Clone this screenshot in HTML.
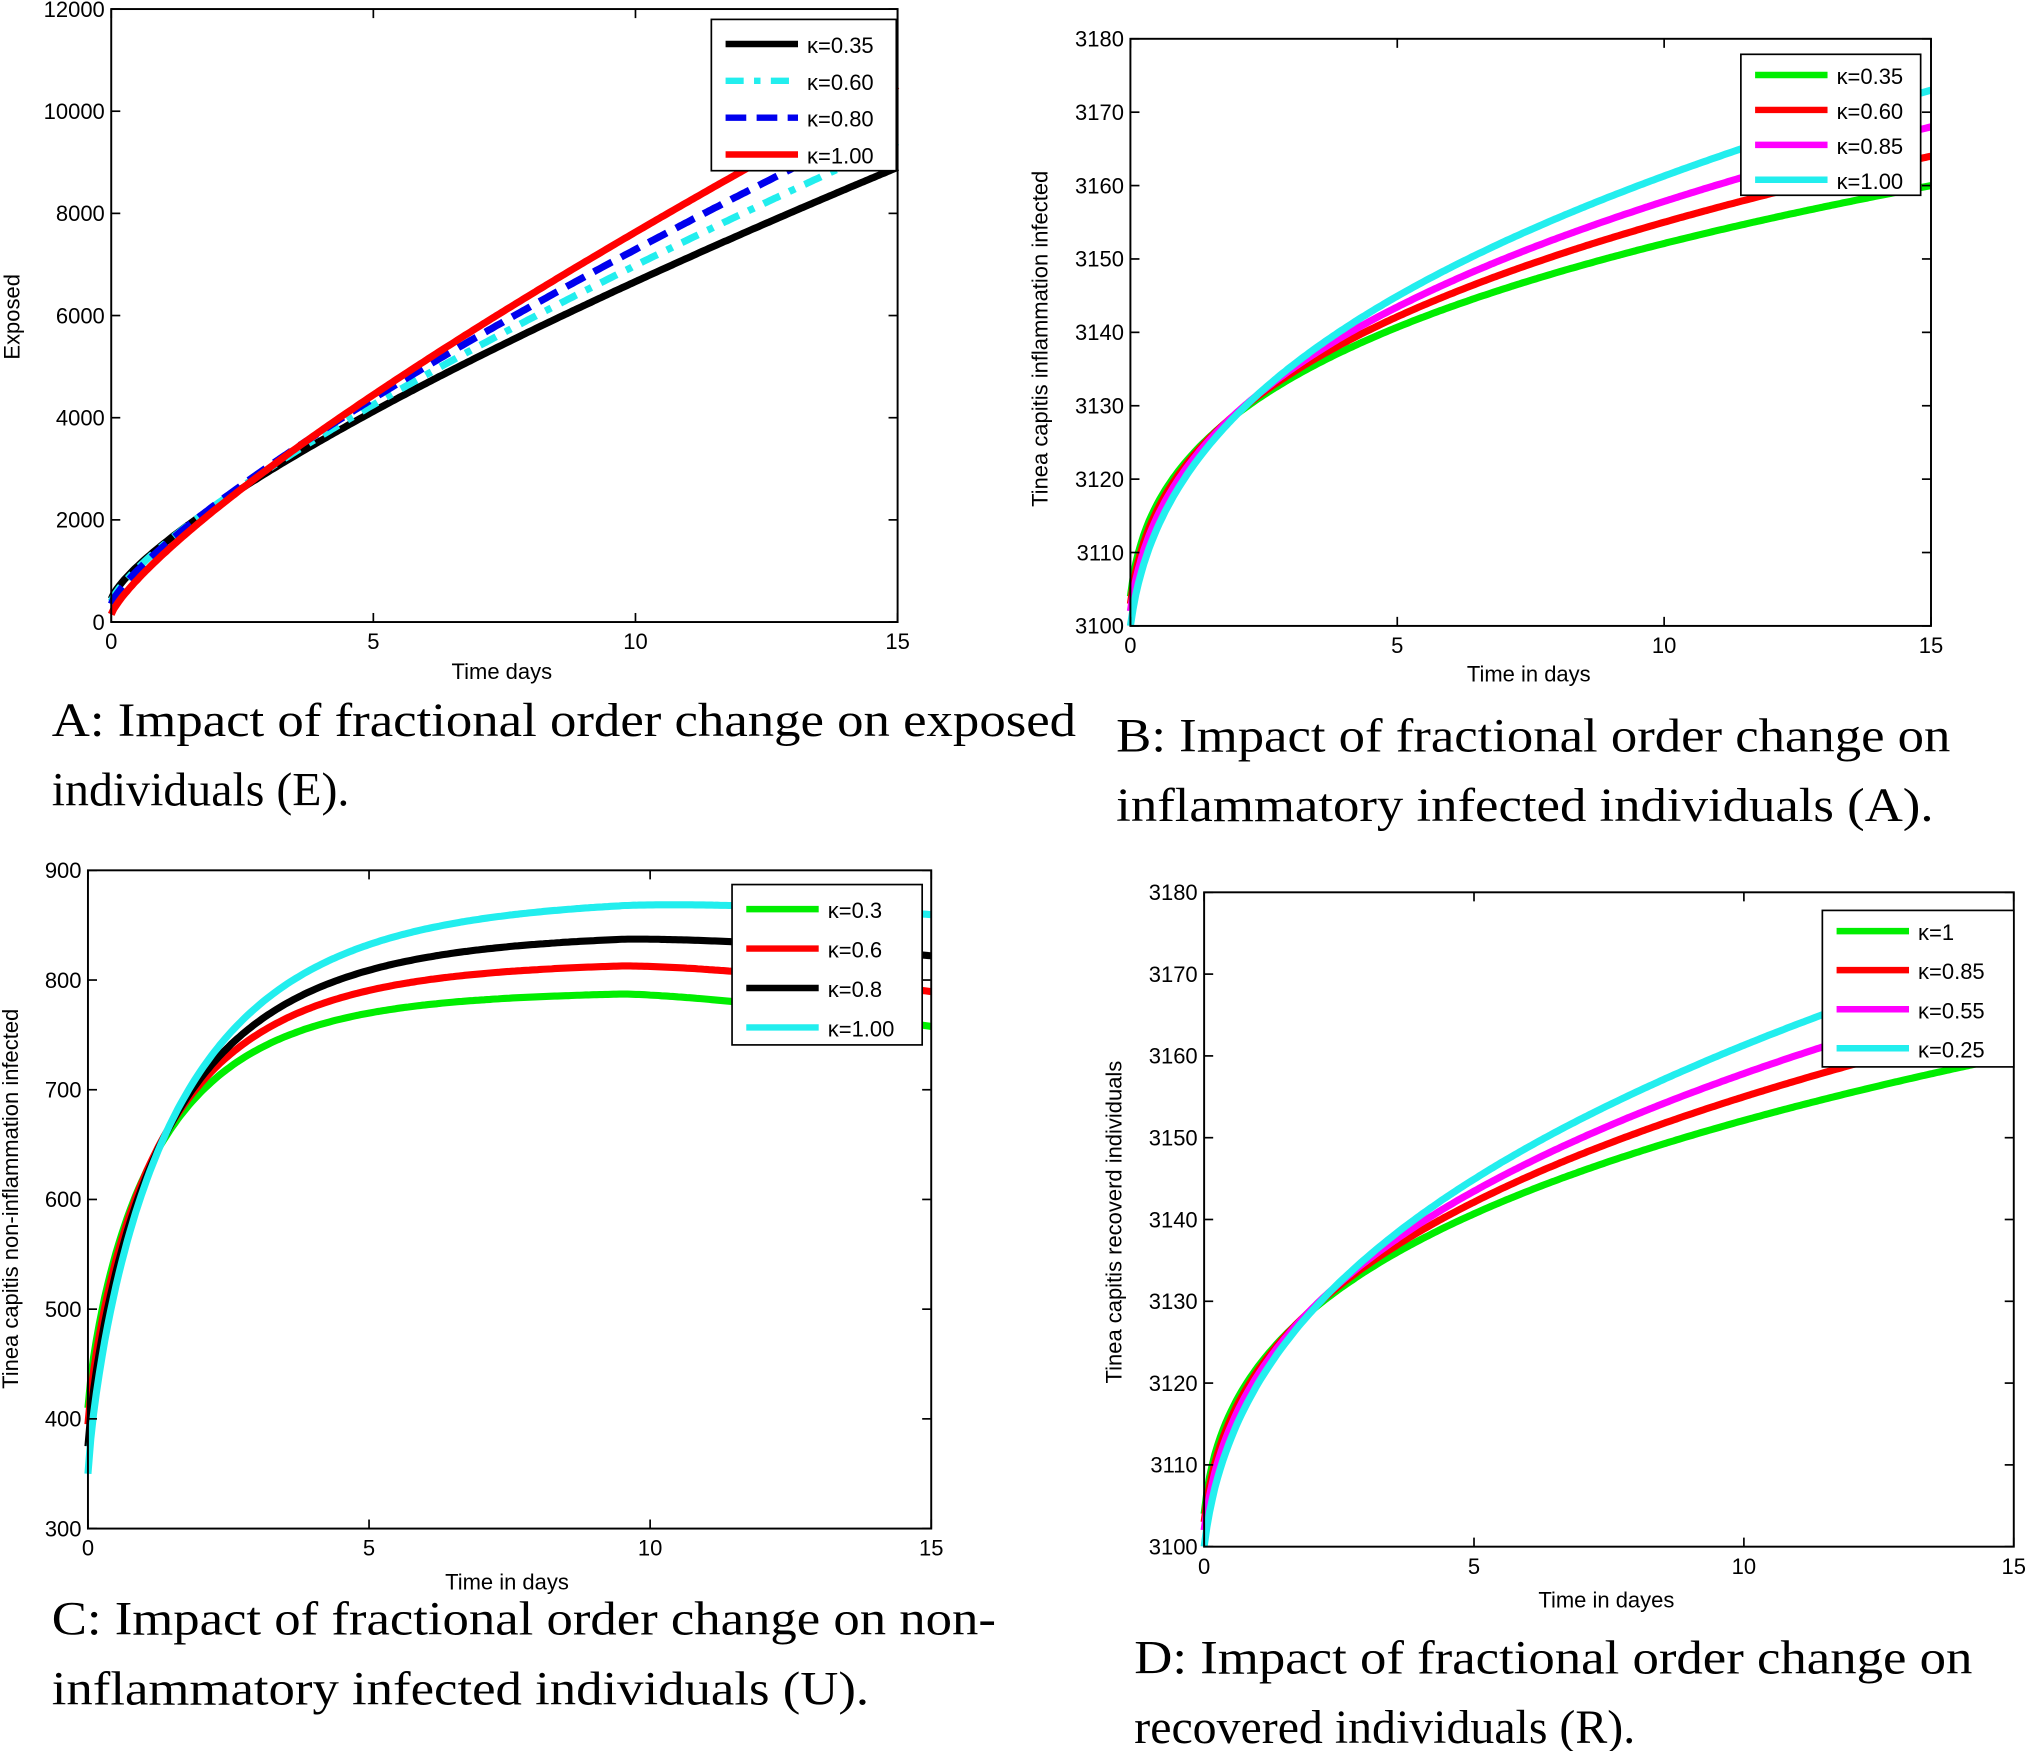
<!DOCTYPE html>
<html><head><meta charset="utf-8">
<style>
html,body{margin:0;padding:0;background:#fff;}
svg{display:block;}
.t{font-family:"Liberation Sans",sans-serif;font-size:17px;fill:#000;}
.c{font-family:"Liberation Serif",serif;font-size:37px;fill:#000;}
</style></head><body>
<svg id="s" width="2028" height="1751" viewBox="0 0 1568 1354" preserveAspectRatio="none" xmlns="http://www.w3.org/2000/svg">
<rect width="1568" height="1354" fill="#fff"/>
<g id="g"></g>
<text class="c" x="40" y="569" textLength="792" lengthAdjust="spacingAndGlyphs">A: Impact of fractional order change on exposed</text>
<text class="c" x="40" y="623">individuals (E).</text>
<text class="c" x="863" y="581" textLength="645" lengthAdjust="spacingAndGlyphs">B: Impact of fractional order change on</text>
<text class="c" x="863" y="635" textLength="632" lengthAdjust="spacingAndGlyphs">inflammatory infected individuals (A).</text>
<text class="c" x="40" y="1264" textLength="730" lengthAdjust="spacingAndGlyphs">C: Impact of fractional order change on non-</text>
<text class="c" x="40" y="1318" textLength="632" lengthAdjust="spacingAndGlyphs">inflammatory infected individuals (U).</text>
<text class="c" x="877" y="1294" textLength="648" lengthAdjust="spacingAndGlyphs">D: Impact of fractional order change on</text>
<text class="c" x="877" y="1348">recovered individuals (R).</text>
</svg>
<script>
var NS="http://www.w3.org/2000/svg",G=document.getElementById("g");
function el(n,a,txt){var e=document.createElementNS(NS,n);for(var k in a)e.setAttribute(k,a[k]);if(txt!==undefined)e.textContent=txt;G.appendChild(e);return e;}
function panel(o){
 var X=function(t){return o.x0+(t-o.tx0)/(o.tx1-o.tx0)*(o.x1-o.x0)};
 var Y=function(v){return o.y1-(v-o.vy0)/(o.vy1-o.vy0)*(o.y1-o.y0)};
 o.series.forEach(function(s){
  var d="";for(var i=0;i<=300;i++){var t=15*i/300;d+=(i?"L":"M")+X(t).toFixed(1)+","+Y(s.f(t)).toFixed(1);}
  var a={d:d,fill:"none",stroke:s.col,"stroke-width":o.sw||5.5};if(s.dash)a["stroke-dasharray"]=s.dash;el("path",a);
 });
 el("rect",{x:o.x0,y:o.y0,width:o.x1-o.x0,height:o.y1-o.y0,fill:"none",stroke:"#000","stroke-width":1.5});
 [0,5,10,15].forEach(function(t){var x=X(t);
  el("line",{x1:x,y1:o.y1,x2:x,y2:o.y1-7,stroke:"#000","stroke-width":1.3});
  el("line",{x1:x,y1:o.y0,x2:x,y2:o.y0+7,stroke:"#000","stroke-width":1.3});
  el("text",{"class":"t",x:x,y:o.y1+21,"text-anchor":"middle"},t);});
 o.yt.forEach(function(v){var y=Y(v);
  el("line",{x1:o.x0,y1:y,x2:o.x0+7,y2:y,stroke:"#000","stroke-width":1.3});
  el("line",{x1:o.x1,y1:y,x2:o.x1-7,y2:y,stroke:"#000","stroke-width":1.3});
  el("text",{"class":"t",x:o.x0-5,y:y+6,"text-anchor":"end"},v);});
 el("text",{"class":"t",x:o.xlx,y:o.xly,"text-anchor":"middle"},o.xl);
 el("text",{"class":"t",x:o.ylx,y:o.yly,"text-anchor":"middle",transform:"rotate(-90 "+o.ylx+" "+o.yly+")"},o.yl);
 var L=o.leg;el("rect",{x:L.x,y:L.y,width:L.w,height:L.h,fill:"#fff",stroke:"#000","stroke-width":1.3});
 o.series.forEach(function(s,i){var y=L.y+L.off+L.dy*i;
  var a={x1:L.x+11,y1:y-4,x2:L.x+67,y2:y-4,stroke:s.col,"stroke-width":5};if(s.dash)a["stroke-dasharray"]=s.dash;el("line",a);
  el("text",{"class":"t",x:L.x+74,y:y+3},"κ="+s.lab);});
}
function pw(a,e,p){var c=(e-a)/Math.pow(15,p);return function(t){return a+c*Math.pow(t,p)};}
function pws(a,e,p,s){var b=Math.pow(s,p),c=(e-a)/(Math.pow(15+s,p)-b);return function(t){return a+c*(Math.pow(t+s,p)-b)};}
panel({x0:86,x1:694,y0:7,y1:481,tx0:0,tx1:15,vy0:0,vy1:12000,yt:[0,2000,4000,6000,8000,10000,12000],
 xl:"Time days",xlx:388,xly:525,yl:"Exposed",ylx:15,yly:245,
 leg:{x:550,y:15,w:143,h:117,off:23,dy:28.5},
 series:[{col:"#000",lab:"0.35",f:pw(450,8900,0.758)},
 {col:"#22eeee",lab:"0.60",dash:"14 8 5 8",f:pw(400,9400,0.772)},
 {col:"#0000ee",lab:"0.80",dash:"16 8",f:pw(350,9900,0.786)},
 {col:"#ff0000",lab:"1.00",f:pw(150,10500,0.80)}]});
function bser(labs){return [{col:"#00ee00",lab:labs[0],f:pws(3104,3160,0.30,0.06)},{col:"#ff0000",lab:labs[1],f:pws(3103,3164,0.32,0.07)},{col:"#ff00ff",lab:labs[2],f:pws(3102,3168,0.34,0.08)},{col:"#22eeee",lab:labs[3],f:pws(3100,3173,0.36,0.09)}];}
panel({x0:874,x1:1493,y0:30,y1:484,tx0:0,tx1:15,vy0:3100,vy1:3180,yt:[3100,3110,3120,3130,3140,3150,3160,3170,3180],
 xl:"Time in days",xlx:1182,xly:527,yl:"Tinea capitis inflammation infected",ylx:810,yly:262,
 leg:{x:1346,y:42,w:139,h:109,off:20,dy:27},series:bser(["0.35","0.60","0.85","1.00"])});
function cf(s0,A,tau,drop){return function(t){var v=s0+A*(1-Math.exp(-Math.pow(t/tau,0.8)));if(t>9.5)v-=drop*Math.pow((t-9.5)/5.5,1.3);return v;};}
panel({x0:68,x1:720,y0:673,y1:1182,tx0:0,tx1:15,vy0:300,vy1:900,yt:[300,400,500,600,700,800,900],
 xl:"Time in days",xlx:392,xly:1229,yl:"Tinea capitis non-inflammation infected",ylx:14,yly:927,
 leg:{x:566,y:684,w:147,h:124,off:23,dy:30.5},
 series:[{col:"#00ee00",lab:"0.3",f:cf(410,380,1.3,32)},{col:"#ff0000",lab:"0.6",f:cf(395,422,1.4,27)},
 {col:"#000",lab:"0.8",f:cf(375,468,1.5,20)},{col:"#22eeee",lab:"1.00",f:cf(350,526,1.6,15)}]});
panel({x0:931,x1:1557,y0:690,y1:1196,tx0:0,tx1:15,vy0:3100,vy1:3180,yt:[3100,3110,3120,3130,3140,3150,3160,3170,3180],
 xl:"Time in dayes",xlx:1242,xly:1243,yl:"Tinea capitis recoverd individuals",ylx:867,yly:945,
 leg:{x:1409,y:704,w:148,h:121,off:20,dy:30.2},series:bser(["1","0.85","0.55","0.25"])});
</script>
</body></html>
